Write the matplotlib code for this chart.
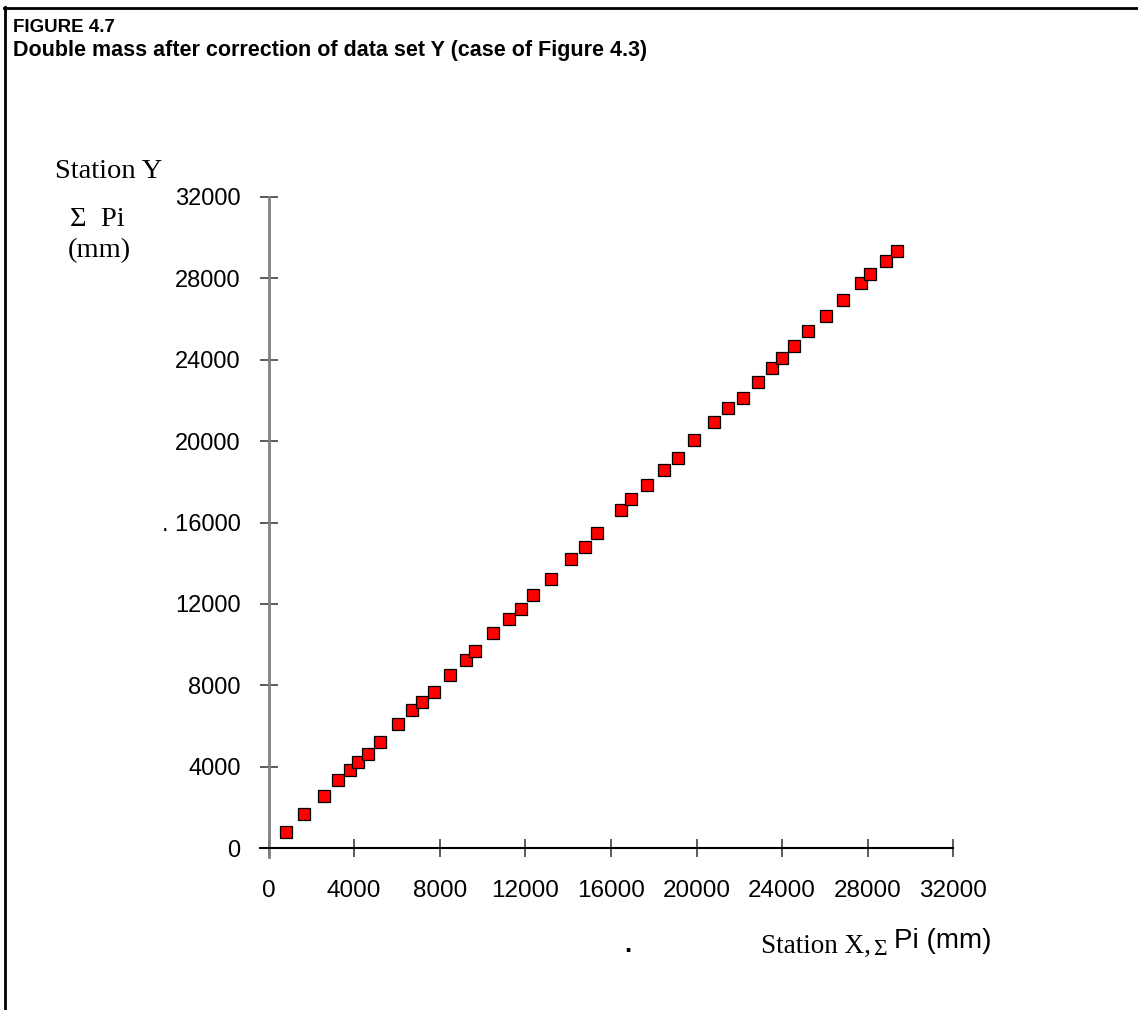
import matplotlib
matplotlib.use("Agg")
import matplotlib.pyplot as plt
from matplotlib.lines import Line2D

# ---- data ----
station_x = [803, 1644, 2593, 3233, 3807, 4167, 4648, 5209, 6050, 6718,
             7185, 7745, 8493, 9240, 9633, 10473, 11221, 11782, 12356, 13197,
             14131, 14799, 15360, 16481, 16948, 17696, 18462, 19116, 19863, 20798,
             21452, 22166, 22867, 23521, 24002, 24549, 25203, 26058, 26824, 27665,
             28113, 28861, 29346]
station_y = [786, 1670, 2568, 3339, 3831, 4223, 4631, 5220, 6104, 6792,
             7185, 7690, 8496, 9262, 9675, 10559, 11246, 11752, 12439, 13225,
             14207, 14797, 15499, 16599, 17169, 17857, 18563, 19153, 20037, 20921,
             21623, 22114, 22900, 23602, 24093, 24683, 25389, 26156, 26942, 27747,
             28219, 28850, 29350]
x_ticks = [0, 4000, 8000, 12000, 16000, 20000, 24000, 28000, 32000]
x_ticklabels = ["0", "4000", "8000", "12000", "16000", "20000", "24000", "28000", "32000"]
y_ticks = [0, 4000, 8000, 12000, 16000, 20000, 24000, 28000, 32000]
y_ticklabels = ["0", "4000", "8000", "12000", ". 16000", "20000", "24000", "28000", "32000"]

title_1 = "FIGURE 4.7"
title_2 = "Double mass after correction of data set Y (case of Figure 4.3)"

W, H = 1138, 1010
fig = plt.figure(figsize=(W / 100, H / 100), dpi=100)
fig.patch.set_facecolor("white")

def fx(px):
    return px / W

def fy(py):
    return 1 - py / H

# frame lines (left and top)
fig.add_artist(Line2D([fx(5), fx(5)], [fy(7), fy(1010)], transform=fig.transFigure,
                      color="black", lw=2))
fig.add_artist(Line2D([fx(4), fx(1138)], [fy(8), fy(8)], transform=fig.transFigure,
                      color="black", lw=2))

# titles
sans = ["Liberation Sans", "DejaVu Sans"]
serif = ["Liberation Serif", "DejaVu Serif"]
fig.text(fx(13), fy(32), title_1, fontsize=13.5, fontweight="bold", family=sans,
         va="baseline", ha="left")
fig.text(fx(13), fy(56), title_2, fontsize=15.5, fontweight="bold", family=sans,
         va="baseline", ha="left")

# axes
left, right = 268.5, 953.3
bottom, top = 848.3, 196.7
ax = fig.add_axes([fx(left), fy(bottom), (right - left) / W, (bottom - top) / H])
ax.set_xlim(0, 32000)
ax.set_ylim(0, 32000)
for s in ax.spines.values():
    s.set_visible(False)
ax.patch.set_alpha(0)

# axis lines
ax.add_artist(Line2D([0, 0], [-0.014, 1], transform=ax.transAxes, color="#808080",
                     lw=2, clip_on=False))
ax.add_artist(Line2D([-0.013, 1], [0, 0], transform=ax.transAxes, color="black",
                     lw=1.5, clip_on=False))

ax.set_xticks(x_ticks)
ax.set_xticklabels(x_ticklabels)
ax.set_yticks(y_ticks)
ax.set_yticklabels(y_ticklabels)
ax.tick_params(axis="both", direction="inout", length=13, width=1.1, color="#303030")
ax.tick_params(axis="y", pad=13.5, labelsize=17)
ax.tick_params(axis="x", pad=16, labelsize=17.5)
for lab in ax.get_xticklabels() + ax.get_yticklabels():
    lab.set_family(sans)

ax.plot(station_x, station_y, linestyle="none", marker="s", markersize=8.2,
        markerfacecolor="#ff0000", markeredgecolor="black", markeredgewidth=0.9,
        clip_on=False, zorder=5)

# y-axis label (three lines)
fig.text(fx(55), fy(171), "Station Y", fontsize=20.5, family=serif, va="center", ha="left")
fig.text(fx(70), fy(219), "\u03a3  Pi", fontsize=20.5, family=serif, va="center", ha="left")
fig.text(fx(68), fy(251), "(mm)", fontsize=20.5, family=serif, va="center", ha="left")

# x-axis label
fig.text(fx(761), fy(953), "Station X,", fontsize=19.5, family=serif, va="baseline", ha="left")
fig.text(fx(873), fy(955), "\u03a3", fontsize=17, family=serif, va="baseline", ha="left")
fig.text(fx(894), fy(948), "Pi (mm)", fontsize=20, family=sans, va="baseline", ha="left")
fig.text(fx(624), fy(952), ".", fontsize=18, family=sans, va="baseline", ha="left",
         fontweight="bold")

fig.savefig("out.png", dpi=100, facecolor="white")
